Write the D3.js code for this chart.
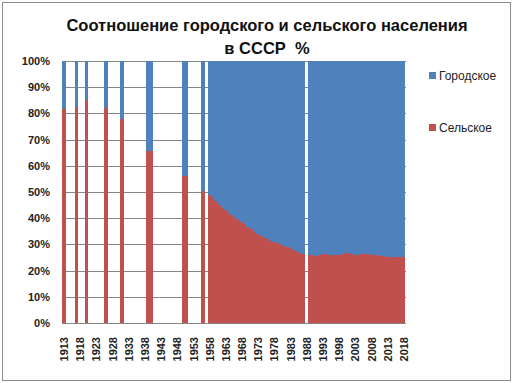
<!DOCTYPE html>
<html><head><meta charset="utf-8">
<script src="https://cdn.jsdelivr.net/npm/d3@7"></script>
<style>body{margin:0;background:#fff;} svg{display:block;}</style>
</head><body>
<svg id="chart" width="513" height="383"></svg>
<script>
// Years shown on the category axis (every year 1913–2018)
const years = d3.range(1913, 2019);
// Tick labels (every 5 years)
const tickYears = d3.range(1913, 2019, 5);
// Years that have data
const dataYears = [1913,1917,1920,1926,1931,1939,1940,1950,1951,1956,
  1958,1959,1960,1961,1962,1963,1964,1965,1966,1967,1968,1969,1970,1971,1972,1973,1974,1975,1976,1977,1978,1979,1980,1981,1982,1983,1984,1985,1986,1987,
  1989,1990,1991,1992,1993,1994,1995,1996,1997,1998,1999,2000,2001,2002,2003,2004,2005,2006,2007,2008,2009,2010,2011,2012,2013,2014,2015,2016,2017,2018];
// Rural share, % (Сельское)
const rural = [81.5,82.5,85,82,78,65.5,65.5,56,56,50.5,
  49.0,48.0,46.5,45.0,44.0,43.0,42.0,41.2,40.2,39.3,38.5,37.6,36.8,35.8,34.8,34.0,33.2,32.5,31.9,31.4,30.9,30.4,30.0,29.5,29.0,28.5,27.9,27.3,26.8,26.2,
  26.0,25.8,25.6,25.9,26.3,26.2,26.0,25.9,25.8,26.0,26.4,26.6,26.6,26.3,26.0,26.0,26.2,26.3,26.2,26.0,25.9,25.8,25.6,25.4,25.3,25.3,25.2,25.1,25.1,25.1];
// Urban share, % (Городское)
const urban = rural.map(v => 100 - v);
const seriesNames = ["Сельское", "Городское"];
const seriesColors = ["#C0504D", "#4F81BD"];
const yTicks = [0,10,20,30,40,50,60,70,80,90,100];

const svg = d3.select("#chart");
const fontFam = "'Liberation Sans', Arial, sans-serif";

// border
svg.append("rect").attr("x",2.5).attr("y",2.5).attr("width",508).attr("height",378)
  .attr("fill","#fff").attr("stroke","#8c8c8c").attr("stroke-width",1);

const plot = {left:62, right:405, top:61, bottom:323};
const x = d3.scaleBand().domain(years).range([plot.left, plot.right]).padding(0);
const y = d3.scaleLinear().domain([0,100]).range([plot.bottom, plot.top]);

// gridlines
svg.append("g").selectAll("line").data(yTicks).join("line")
  .attr("x1", plot.left).attr("x2", plot.right+1)
  .attr("y1", d => Math.round(y(d))+0.5).attr("y2", d => Math.round(y(d))+0.5)
  .attr("stroke","#868686").attr("stroke-width",1);
svg.append("line").attr("x1",plot.left+0.5).attr("x2",plot.left+0.5)
  .attr("y1",plot.top).attr("y2",plot.bottom).attr("stroke","#868686");

// stacked data
const table = dataYears.map((yr,i) => ({year: yr, "Сельское": rural[i], "Городское": urban[i]}));
const stacked = d3.stack().keys(seriesNames)(table);

svg.append("g").selectAll("g").data(stacked).join("g")
  .attr("fill", (d,i) => seriesColors[i])
  .selectAll("rect").data(d => d).join("rect")
  .attr("x", d => x(d.data.year))
  .attr("width", x.bandwidth()+0.3)
  .attr("y", d => y(d[1]))
  .attr("height", d => y(d[0]) - y(d[1]))
  .attr("shape-rendering","crispEdges");

// y axis labels
svg.append("g").selectAll("text").data(yTicks).join("text")
  .attr("x", 50).attr("y", d => y(d)+4)
  .attr("text-anchor","end").attr("font-family",fontFam).attr("font-weight","bold")
  .attr("font-size",11).attr("fill","#222").text(d => d + "%");

// x axis labels (rotated)
svg.append("g").selectAll("text").data(tickYears).join("text")
  .attr("transform", d => `translate(${x(d)+x.bandwidth()/2+4.5},${337}) rotate(-90)`)
  .attr("text-anchor","end").attr("font-family",fontFam).attr("font-weight","bold")
  .attr("font-size",11).attr("fill","#222").text(d => d);

// title
svg.append("text").attr("x",267).attr("y",31).attr("text-anchor","middle")
  .attr("font-family",fontFam).attr("font-weight","bold").attr("font-size",16.5).attr("fill","#111")
  .text("Соотношение городского и сельского населения");
svg.append("text").attr("x",267).attr("y",54).attr("text-anchor","middle")
  .attr("font-family",fontFam).attr("font-weight","bold").attr("font-size",16.5).attr("fill","#111")
  .attr("xml:space","preserve").style("white-space","pre")
  .text("в СССР  %");

// legend
const legendItems = [{name:"Городское", color:seriesColors[1], y:76},{name:"Сельское", color:seriesColors[0], y:128}];
const lg = svg.append("g").selectAll("g").data(legendItems).join("g");
lg.append("rect").attr("x",429).attr("y",d=>d.y-4).attr("width",7).attr("height",7).attr("fill",d=>d.color);
lg.append("text").attr("x",439).attr("y",d=>d.y+4).attr("font-family",fontFam)
  .attr("font-size",12).attr("fill","#222").text(d=>d.name);
</script>
</body></html>
